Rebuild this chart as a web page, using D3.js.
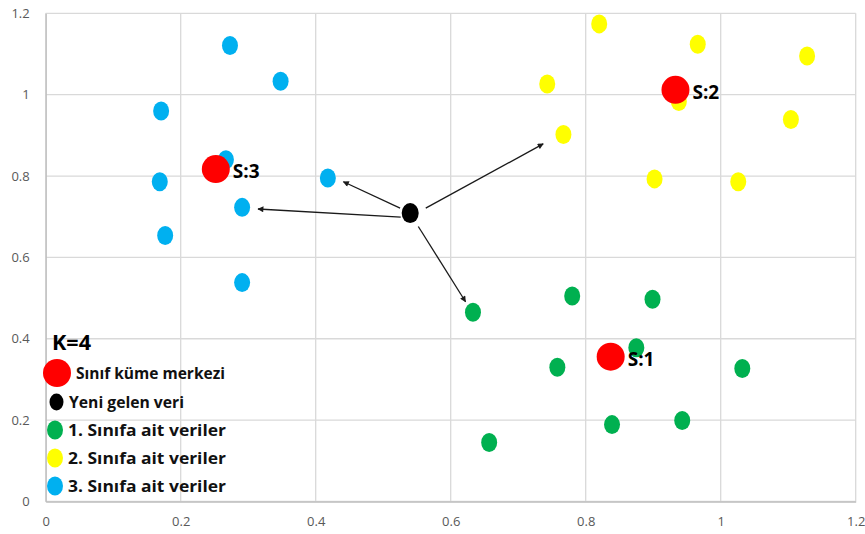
<!DOCTYPE html>
<html><head><meta charset="utf-8">
<script src="https://cdn.jsdelivr.net/npm/d3@7"></script>
<style>
html,body{margin:0;padding:0;background:#fff;}
svg{display:block;}
</style></head>
<body>
<script>
// ---- data ----
const tickValues = [0, 0.2, 0.4, 0.6, 0.8, 1, 1.2];
const tickLabels = ["0", "0.2", "0.4", "0.6", "0.8", "1", "1.2"];

const class1 = [[0.633,0.465],[0.780,0.505],[0.899,0.497],[0.875,0.378],[0.758,0.330],[1.032,0.327],[0.839,0.189],[0.943,0.199],[0.657,0.145]];
const class2 = [[0.820,1.174],[0.966,1.124],[1.128,1.095],[0.743,1.026],[0.938,0.983],[0.767,0.902],[1.104,0.939],[0.902,0.793],[1.026,0.786]];
const class3 = [[0.273,1.121],[0.348,1.033],[0.171,0.960],[0.267,0.840],[0.169,0.786],[0.291,0.723],[0.177,0.654],[0.291,0.538],[0.418,0.795]];
const centers = [[0.837,0.356],[0.933,1.012],[0.252,0.817]];
const centerLabels = ["S:1","S:2","S:3"];
const newPoint = [0.540,0.709];
// arrows: [x1,y1,x2,y2] in data units
const arrows = [[0.525,0.721,0.441,0.786],[0.526,0.699,0.3145,0.719],[0.563,0.721,0.737,0.879],[0.552,0.676,0.622,0.491]];

const kLabel = "K=4";
const legendLabels = ["Sınıf küme merkezi","Yeni gelen veri","1. Sınıfa ait veriler","2. Sınıfa ait veriler","3. Sınıfa ait veriler"];

// ---- drawing ----
const W = 865, H = 534;
const svg = d3.select("body").append("svg").attr("width", W).attr("height", H);
const x = d3.scaleLinear().domain([0,1.2]).range([45.7, 855.7]);
const y = d3.scaleLinear().domain([0,1.2]).range([501.5, 13.3]);
const gridCol = "#d9d9d9";
const font = "'Open Sans', 'Liberation Sans', sans-serif";

// gridlines
svg.append("g").selectAll("line").data(tickValues).join("line")
  .attr("x1", d => x(d)).attr("x2", d => x(d)).attr("y1", y(0)).attr("y2", y(1.2))
  .attr("stroke", gridCol).attr("stroke-width", 1.3);
svg.append("g").selectAll("line").data(tickValues).join("line")
  .attr("y1", d => y(d)).attr("y2", d => y(d)).attr("x1", x(0)).attr("x2", x(1.2))
  .attr("stroke", gridCol).attr("stroke-width", 1.3);

// axes
const xAxis = d3.axisBottom(x).tickValues(tickValues).tickFormat((d,i) => tickLabels[i]).tickSize(0).tickPadding(15);
const yAxis = d3.axisLeft(y).tickValues(tickValues).tickFormat((d,i) => tickLabels[i]).tickSize(0).tickPadding(16);
const gx = svg.append("g").attr("transform", `translate(0,${y(0)})`).call(xAxis);
const gy = svg.append("g").attr("transform", `translate(${x(0)},0)`).call(yAxis);
[gx, gy].forEach(g => {
  g.select(".domain").attr("stroke", "#bfbfbf").attr("stroke-width", 1.3);
  g.selectAll("text").attr("fill", "#595959").style("font-family", font).style("font-size", "13px");
});

// arrowhead marker
svg.append("defs").append("marker").attr("id","ah").attr("viewBox","0 0 10 10")
  .attr("refX", 9).attr("refY", 5).attr("markerWidth", 7).attr("markerHeight", 6)
  .attr("markerUnits","userSpaceOnUse").attr("orient","auto")
  .append("path").attr("d","M0,0 L10,5 L0,10 z").attr("fill","#1a1a1a");

// points
const rx = 8, ry = 9.5;
function dots(data, color) {
  svg.append("g").selectAll("ellipse").data(data).join("ellipse")
    .attr("cx", d => x(d[0])).attr("cy", d => y(d[1]))
    .attr("rx", rx).attr("ry", ry).attr("fill", color);
}
dots(class1, "#00B050");
dots(class2, "#FFFF00");
dots(class3, "#00B0F0");

// arrows
svg.append("g").selectAll("line").data(arrows).join("line")
  .attr("x1", d => x(d[0])).attr("y1", d => y(d[1]))
  .attr("x2", d => x(d[2])).attr("y2", d => y(d[3]))
  .attr("stroke", "#1a1a1a").attr("stroke-width", 1.3).attr("marker-end", "url(#ah)");

// centers
svg.append("g").selectAll("circle").data(centers).join("circle")
  .attr("cx", d => x(d[0])).attr("cy", d => y(d[1])).attr("r", 14).attr("fill", "#FF0000");
svg.append("g").selectAll("text").data(centers).join("text")
  .attr("x", d => x(d[0]) + 17).attr("y", d => y(d[1]) + 9)
  .text((d,i) => centerLabels[i])
  .attr("fill", "#000").style("font-family", font).style("font-weight", "bold").style("font-size", "19px");

// new point
svg.append("ellipse").attr("cx", x(newPoint[0])).attr("cy", y(newPoint[1]))
  .attr("rx", 8.5).attr("ry", 10).attr("fill", "#000");

// legend (annotation)
svg.append("text").attr("x", 52).attr("y", 350).text(kLabel)
  .attr("textLength", 39).attr("lengthAdjust", "spacingAndGlyphs")
  .style("font-family", font).style("font-weight", "bold").style("font-size", "21px").attr("fill", "#000");

const leg = [
  {shape:"circle", r:14, cx:57, cy:373, color:"#FF0000", tx:76, ty:379, tl:149},
  {shape:"ellipse", rx:7, ry:8.5, cx:56.5, cy:402, color:"#000", tx:69, ty:408, tl:115},
  {shape:"ellipse", rx:8, ry:9.5, cx:55, cy:430, color:"#00B050", tx:68, ty:436, tl:158},
  {shape:"ellipse", rx:8, ry:9.5, cx:55, cy:458, color:"#FFFF00", tx:68, ty:464, tl:158},
  {shape:"ellipse", rx:8, ry:9.5, cx:55, cy:486, color:"#00B0F0", tx:68, ty:492, tl:158}
];
const lg = svg.append("g");
leg.forEach((l, i) => {
  if (l.shape === "circle") lg.append("circle").attr("cx", l.cx).attr("cy", l.cy).attr("r", l.r).attr("fill", l.color);
  else lg.append("ellipse").attr("cx", l.cx).attr("cy", l.cy).attr("rx", l.rx).attr("ry", l.ry).attr("fill", l.color);
  lg.append("text").attr("x", l.tx).attr("y", l.ty).text(legendLabels[i])
    .attr("textLength", l.tl).attr("lengthAdjust", "spacingAndGlyphs")
    .style("font-family", font).style("font-weight", "bold").style("font-size", "16px").attr("fill", "#111");
});
</script>
</body></html>
